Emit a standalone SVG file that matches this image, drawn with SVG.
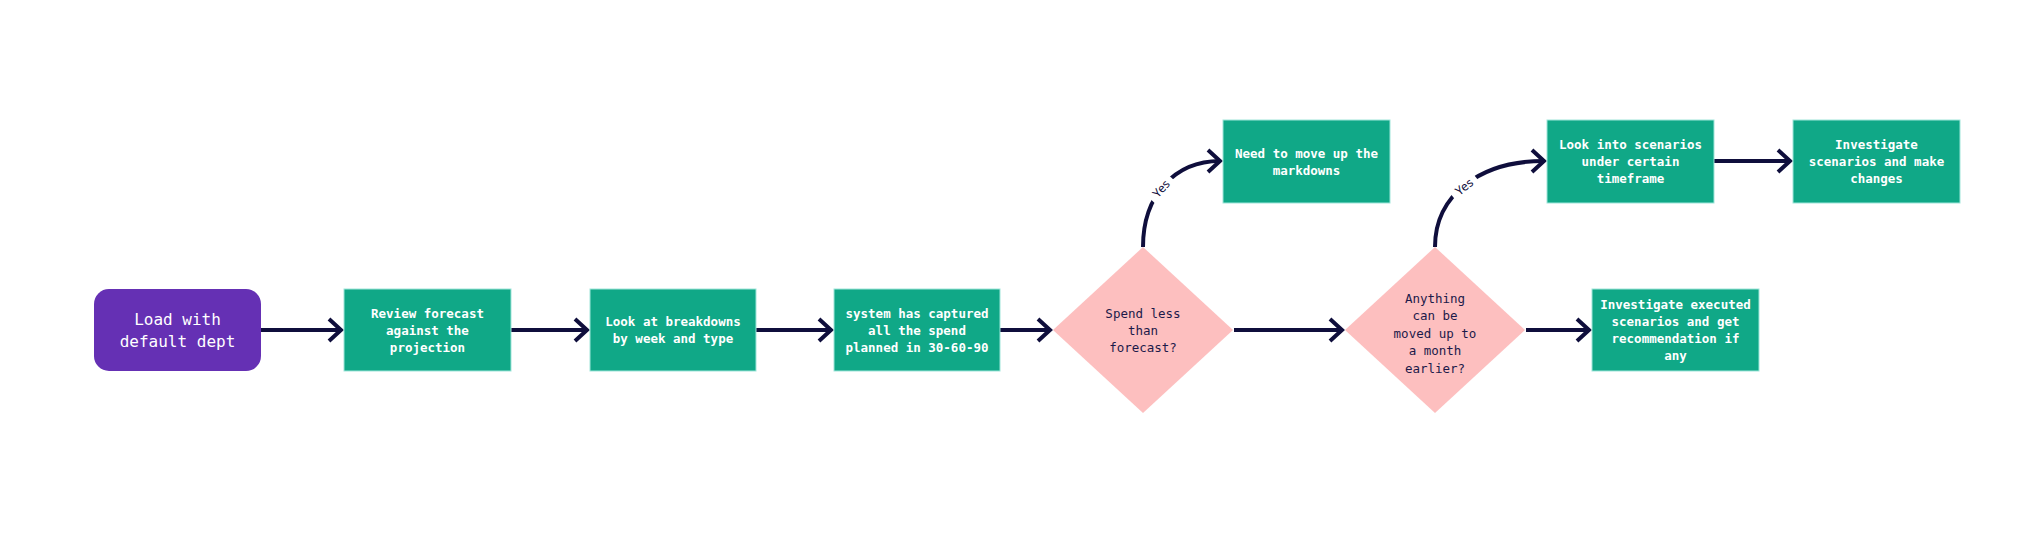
<svg xmlns="http://www.w3.org/2000/svg" width="2025" height="536" viewBox="0 0 2025 536">
  <style>
    .box { fill: #10a887; stroke: #9fe6da; stroke-width: 1; }
    .start { fill: #6530b4; }
    .dia { fill: #fdbfbf; }
    .bt { font-family: "DejaVu Sans Mono", "Liberation Mono", monospace; font-size: 12.5px; font-weight: bold; fill: #ffffff; text-anchor: middle; dominant-baseline: central; }
    .st { font-family: "DejaVu Sans Mono", "Liberation Mono", monospace; font-size: 16px; fill: #ffffff; text-anchor: middle; dominant-baseline: central; }
    .dt { font-family: "DejaVu Sans Mono", "Liberation Mono", monospace; font-size: 12.5px; fill: #1c1a4a; text-anchor: middle; dominant-baseline: central; }
    .edge { fill: none; stroke: #0f0e3c; stroke-width: 4; marker-end: url(#arr); }
    .lbl { font-family: "Noto Sans", "Liberation Sans", sans-serif; font-size: 12px; fill: #0f0e3c; text-anchor: middle; dominant-baseline: central; }
  </style>
  <defs>
    <marker id="arr" markerUnits="userSpaceOnUse" markerWidth="40" markerHeight="40" viewBox="-20 -20 40 40" refX="0" refY="0" orient="auto" overflow="visible">
      <path d="M-12,-11 L0,0 L-12,11" fill="none" stroke="#0f0e3c" stroke-width="4"/>
    </marker>
  </defs>
  <rect width="2025" height="536" fill="#ffffff"/>

  <g id="connectors">
    <path class="edge" d="M261,330 H341"/>
    <path class="edge" d="M511,330 H587"/>
    <path class="edge" d="M756,330 H831"/>
    <path class="edge" d="M1000,330 H1050"/>
    <path class="edge" d="M1234,330 H1342"/>
    <path class="edge" d="M1526,330 H1589"/>
    <path class="edge" d="M1143,247 C1143,195 1175,161 1220,161"/>
    <path class="edge" d="M1435,247 C1435,195 1480,161 1544,161"/>
    <path class="edge" d="M1714,161 H1790"/>
    <g transform="translate(1161,188.5) rotate(-48)">
      <rect x="-15" y="-8" width="30" height="16" fill="#ffffff"/>
      <text class="lbl" x="0" y="0">Yes</text>
    </g>
    <g transform="translate(1464,186.5) rotate(-39)">
      <rect x="-15" y="-8" width="30" height="16" fill="#ffffff"/>
      <text class="lbl" x="0" y="0">Yes</text>
    </g>
  </g>

  <g id="load">
    <rect class="start" x="94" y="289" width="167" height="82" rx="15"/>
    <text class="st" x="177.5" y="319.5">Load with</text>
    <text class="st" x="177.5" y="341">default dept</text>
  </g>
  <g id="review">
    <rect class="box" x="344" y="289" width="167" height="82"/>
    <text class="bt" x="427.5" y="313">Review forecast</text>
    <text class="bt" x="427.5" y="330">against the</text>
    <text class="bt" x="427.5" y="347">projection</text>
  </g>
  <g id="breakdowns">
    <rect class="box" x="590" y="289" width="166" height="82"/>
    <text class="bt" x="673" y="321.5">Look at breakdowns</text>
    <text class="bt" x="673" y="338.5">by week and type</text>
  </g>
  <g id="captured">
    <rect class="box" x="834" y="289" width="166" height="82"/>
    <text class="bt" x="917" y="313">system has captured</text>
    <text class="bt" x="917" y="330">all the spend</text>
    <text class="bt" x="917" y="347">planned in 30-60-90</text>
  </g>
  <g id="spend-less">
    <polygon class="dia" points="1143,247 1233,330 1143,413 1053,330"/>
    <text class="dt" x="1143" y="313">Spend less</text>
    <text class="dt" x="1143" y="330">than</text>
    <text class="dt" x="1143" y="347.5">forecast?</text>
  </g>
  <g id="markdowns">
    <rect class="box" x="1223" y="120" width="167" height="83"/>
    <text class="bt" x="1306.5" y="153">Need to move up the</text>
    <text class="bt" x="1306.5" y="170">markdowns</text>
  </g>
  <g id="anything">
    <polygon class="dia" points="1435,247 1525,330 1435,413 1345,330"/>
    <text class="dt" x="1435" y="298.5">Anything</text>
    <text class="dt" x="1435" y="315.5">can be</text>
    <text class="dt" x="1435" y="333">moved up to</text>
    <text class="dt" x="1435" y="350.5">a month</text>
    <text class="dt" x="1435" y="368">earlier?</text>
  </g>
  <g id="look-into">
    <rect class="box" x="1547" y="120" width="167" height="83"/>
    <text class="bt" x="1630.5" y="144.5">Look into scenarios</text>
    <text class="bt" x="1630.5" y="161.5">under certain</text>
    <text class="bt" x="1630.5" y="178.5">timeframe</text>
  </g>
  <g id="investigate-changes">
    <rect class="box" x="1793" y="120" width="167" height="83"/>
    <text class="bt" x="1876.5" y="144.5">Investigate</text>
    <text class="bt" x="1876.5" y="161.5">scenarios and make</text>
    <text class="bt" x="1876.5" y="178.5">changes</text>
  </g>
  <g id="investigate-executed">
    <rect class="box" x="1592" y="289" width="167" height="82"/>
    <text class="bt" x="1675.5" y="304.5">Investigate executed</text>
    <text class="bt" x="1675.5" y="321.5">scenarios and get</text>
    <text class="bt" x="1675.5" y="338.5">recommendation if</text>
    <text class="bt" x="1675.5" y="355.5">any</text>
  </g>
</svg>
